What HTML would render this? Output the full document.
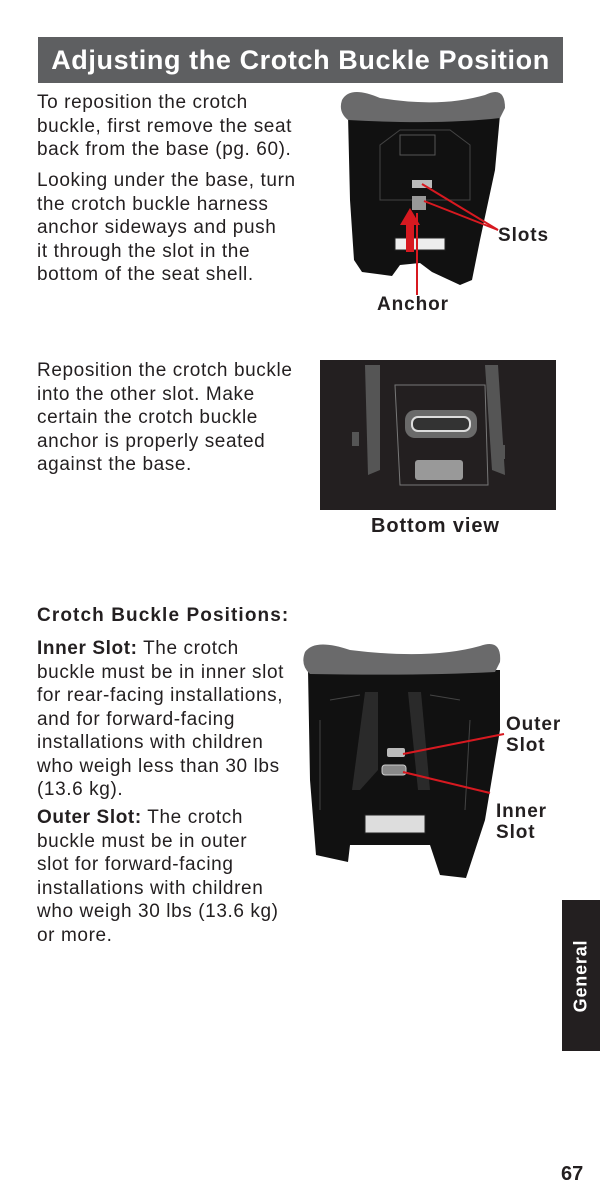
<!DOCTYPE html>
<html><head><meta charset="utf-8"><style>
body{margin:0;width:600px;height:1200px;background:#fff;position:relative;overflow:hidden;font-family:"Liberation Sans",sans-serif;color:#231f20}
.hdr{position:absolute;left:38px;top:37px;width:525px;height:46px;background:#5e5f61;color:#fff;font-weight:bold;font-size:27px;letter-spacing:.6px;line-height:47px;text-align:center;white-space:nowrap}
.t{position:absolute;font-size:19px;letter-spacing:.6px;line-height:23.5px;white-space:nowrap}
.b{font-weight:bold}
.lbl{position:absolute;font-weight:bold;font-size:19px;letter-spacing:.9px;line-height:21px}
svg{position:absolute}
</style></head><body>
<div class="hdr">Adjusting the Crotch Buckle Position</div>
<div class="t" style="left:37px;top:91px">To reposition the crotch<br>buckle, first remove the seat<br>back from the base (pg. 60).</div>
<div class="t" style="left:37px;top:169px">Looking under the base, turn<br>the crotch buckle harness<br>anchor sideways and push<br>it through the slot in the<br>bottom of the seat shell.</div>

<svg style="left:320px;top:80px" width="240" height="220" viewBox="0 0 240 220">
<path d="M28,35 L30,120 L34,180 L42,192 L72,196 L80,185 L100,183 L112,192 L140,205 L152,200 L160,160 L175,90 L180,35 Z" fill="#111"/>
<path d="M22,20 Q30,5 60,18 Q120,28 165,15 Q185,5 185,28 L180,38 Q120,45 28,40 Q18,32 22,20Z" fill="#6a6a6b"/>
<path d="M60,65 L80,50 L130,50 L150,65 L150,120 L60,120Z" fill="none" stroke="#444"/>
<rect x="80" y="55" width="35" height="20" fill="none" stroke="#555"/>
<rect x="92" y="100" width="20" height="8" fill="#bbb"/>
<rect x="92" y="116" width="14" height="14" fill="#999"/>
<rect x="75" y="158" width="50" height="12" fill="#eee" stroke="#222"/>
<path d="M80,145 L90,128 L100,145 L94,145 L94,172 L86,172 L86,145Z" fill="#d71920"/>
<line x1="102" y1="104" x2="178" y2="150" stroke="#d71920" stroke-width="2"/>
<line x1="104" y1="121" x2="178" y2="150" stroke="#d71920" stroke-width="2"/>
<line x1="97" y1="133" x2="97" y2="215" stroke="#d71920" stroke-width="2"/>
</svg>
<div class="lbl" style="left:498px;top:225px">Slots</div>
<div class="lbl" style="left:377px;top:294px">Anchor</div>

<div class="t" style="left:37px;top:359px">Reposition the crotch buckle<br>into the other slot. Make<br>certain the crotch buckle<br>anchor is properly seated<br>against the base.</div>
<svg style="left:320px;top:360px" width="236" height="150" viewBox="0 0 236 150">
<rect width="236" height="150" fill="#231f20"/>
<path d="M45,5 L60,5 L60,110 L48,115Z" fill="#555"/>
<path d="M165,5 L178,5 L185,115 L172,110Z" fill="#555"/>
<path d="M75,25 L165,25 L168,125 L80,125Z" fill="none" stroke="#777"/>
<rect x="85" y="50" width="72" height="28" rx="10" fill="#6a6a6a"/>
<rect x="92" y="57" width="58" height="14" rx="6" fill="#333" stroke="#ddd" stroke-width="2"/>
<rect x="95" y="100" width="48" height="20" rx="3" fill="#999"/>
<rect x="32" y="72" width="7" height="14" fill="#555"/><rect x="178" y="85" width="7" height="14" fill="#555"/>
</svg>
<div class="lbl" style="left:371px;top:516px;font-size:20px">Bottom view</div>

<div class="t b" style="left:37px;top:604px;letter-spacing:1.1px">Crotch Buckle Positions:</div>
<div class="t" style="left:37px;top:637px"><b>Inner Slot:</b> The crotch<br>buckle must be in inner slot<br>for rear-facing installations,<br>and for forward-facing<br>installations with children<br>who weigh less than 30 lbs<br>(13.6 kg).</div>
<div class="t" style="left:37px;top:806px"><b>Outer Slot:</b> The crotch<br>buckle must be in outer<br>slot for forward-facing<br>installations with children<br>who weigh 30 lbs (13.6 kg)<br>or more.</div>

<svg style="left:290px;top:630px" width="280" height="250" viewBox="0 0 280 250">
<path d="M18,40 L20,150 L26,225 L58,232 L60,215 L140,215 L150,245 L176,248 L195,190 L210,100 L210,40 Z" fill="#111"/>
<path d="M15,22 Q25,8 60,20 Q140,30 190,16 Q212,8 210,32 L205,42 Q130,46 20,44 Q10,35 15,22Z" fill="#6a6a6b"/>
<path d="M75,62 L88,62 L88,140 L70,160 L62,160Z" fill="#2a2a2a"/><path d="M118,62 L131,62 L140,160 L128,160Z" fill="#2a2a2a"/>
<path d="M40,70 L70,65 M140,65 L170,70 M30,90 L30,180 M180,90 L175,180" stroke="#444" fill="none"/>
<rect x="97" y="118" width="18" height="9" rx="2" fill="#bbb"/>
<rect x="92" y="135" width="24" height="10" rx="3" fill="#888" stroke="#ccc"/>
<rect x="75" y="185" width="60" height="18" fill="#ddd" stroke="#222"/>
<line x1="113" y1="124" x2="214" y2="104" stroke="#d71920" stroke-width="2"/>
<line x1="113" y1="142" x2="200" y2="163" stroke="#d71920" stroke-width="2"/>
</svg>
<div class="lbl" style="left:506px;top:714px">Outer<br>Slot</div>
<div class="lbl" style="left:496px;top:801px">Inner<br>Slot</div>

<div style="position:absolute;left:562px;top:900px;width:38px;height:151px;background:#231f20"></div>
<div style="position:absolute;left:581px;top:976px;transform:translate(-50%,-50%) rotate(-90deg);color:#fff;font-weight:bold;font-size:18px;letter-spacing:.8px;white-space:nowrap">General</div>
<div class="b" style="position:absolute;left:561px;top:1163px;font-size:20px">67</div>
</body></html>
